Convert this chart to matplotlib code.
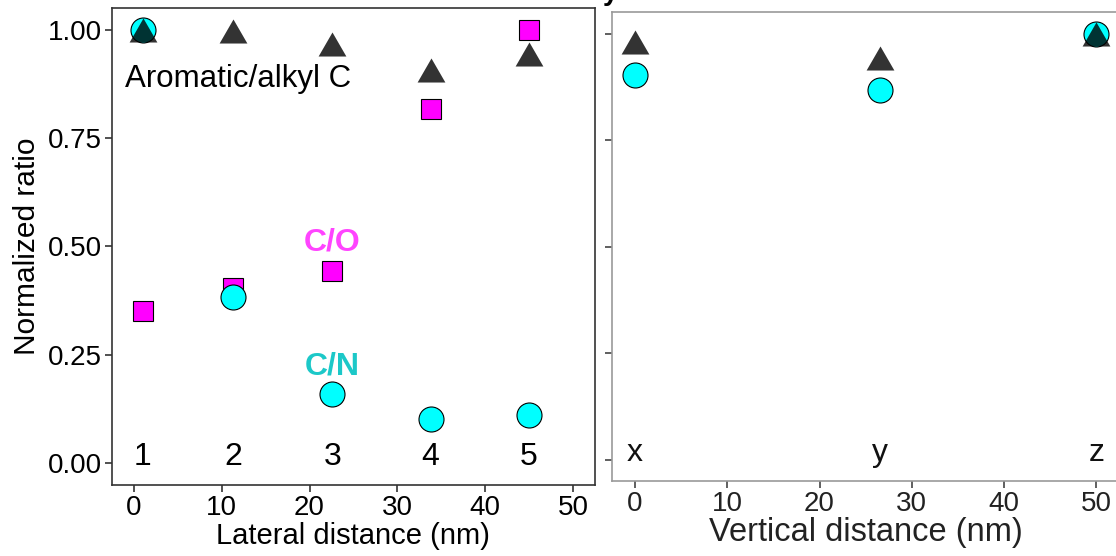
import matplotlib
matplotlib.use('Agg')
import matplotlib.pyplot as plt

plt.rcParams['font.family'] = ['Liberation Sans', 'DejaVu Sans']

# Lateral profile (left panel)
lat_x = [1.0, 11.3, 22.6, 33.8, 45.0]
lat_aromatic = [1.00, 0.998, 0.966, 0.907, 0.944]
lat_cn = [1.00, 0.384, 0.160, 0.102, 0.111]
lat_co = [0.352, 0.405, 0.444, 0.817, 1.00]
lat_labels = ['1', '2', '3', '4', '5']

# Vertical profile (right panel)
vert_x = [0.0, 26.5, 50.0]
vert_aromatic = [0.981, 0.942, 1.00]
vert_cn = [0.902, 0.868, 1.00]
vert_labels = ['x', 'y', 'z']

x_ticks = [0, 10, 20, 30, 40, 50]
y_ticks = [0.00, 0.25, 0.50, 0.75, 1.00]

tri = [(-1, -0.866), (1, -0.866), (0, 0.866)]

fig = plt.figure(figsize=(11.16, 5.56), dpi=100)
ax1 = fig.add_axes([0.1004, 0.128, 0.4326, 0.8576])
ax2 = fig.add_axes([0.5484, 0.135, 0.4546, 0.843])

# left panel
ax1.plot(lat_x, lat_co, ls='none', marker='s', ms=14.5, mfc='#FF00FF', mec='black', mew=0.8, zorder=3)
ax1.plot(lat_x, lat_cn, ls='none', marker='o', ms=18, mfc='#00FFFF', mec='black', mew=0.8, zorder=4)
ax1.plot(lat_x, lat_aromatic, ls='none', marker=tri, ms=20, mfc='black', mec='none', alpha=0.8, zorder=5)
for xv, lab in zip(lat_x, lat_labels):
    ax1.text(xv, 0.015, lab, ha='center', va='center', fontsize=23)
ax1.text(-1.0, 0.887, 'Aromatic/alkyl C', ha='left', va='center', fontsize=22.5)
ax1.text(22.6, 0.51, 'C/O', ha='center', va='center', fontsize=23, fontweight='bold', color='#FF44FF')
ax1.text(22.6, 0.222, 'C/N', ha='center', va='center', fontsize=23, fontweight='bold', color='#1CC8C8')

ax1.set_xlim(-2.5, 52.5)
ax1.set_ylim(-0.05, 1.05)
ax1.set_xticks(x_ticks)
ax1.set_yticks(y_ticks)
ax1.set_yticklabels(['%.2f' % v for v in y_ticks])
ax1.tick_params(labelsize=20, length=5, width=1.2, color='#333333', pad=2)
ax1.set_xlabel('Lateral distance (nm)', fontsize=21, labelpad=1)
ax1.set_ylabel('Normalized ratio', fontsize=21.5, labelpad=5)
for sp in ax1.spines.values():
    sp.set_color('#333333')
    sp.set_linewidth(1.2)

# right panel
ax2.plot(vert_x, vert_cn, ls='none', marker='o', ms=18, mfc='#00FFFF', mec='black', mew=0.8, zorder=4, clip_on=False)
ax2.plot(vert_x, vert_aromatic, ls='none', marker=tri, ms=20, mfc='black', mec='none', alpha=0.8, zorder=5, clip_on=False)
for xv, lab in zip(vert_x, vert_labels):
    ax2.text(xv, 0.015, lab, ha='center', va='center', fontsize=23, color='#111111')

ax2.set_xlim(-2.5, 52.5)
ax2.set_ylim(-0.05, 1.05)
ax2.set_xticks(x_ticks)
ax2.set_yticks(y_ticks)
ax2.set_yticklabels([])
ax2.tick_params(labelsize=20, length=5, width=1.2, color='#444444', labelcolor='#222222', pad=2)
ax2.set_xlabel('Vertical distance (nm)', fontsize=23.5, labelpad=0, color='#222222')
for sp in ax2.spines.values():
    sp.set_color('#999999')
    sp.set_linewidth(1.2)

# partial title glyph clipped at top edge
fig.text(0.547, 1.012, 'y', fontsize=20, fontweight='bold', ha='center', va='center')

fig.savefig('out.png', dpi=100)
